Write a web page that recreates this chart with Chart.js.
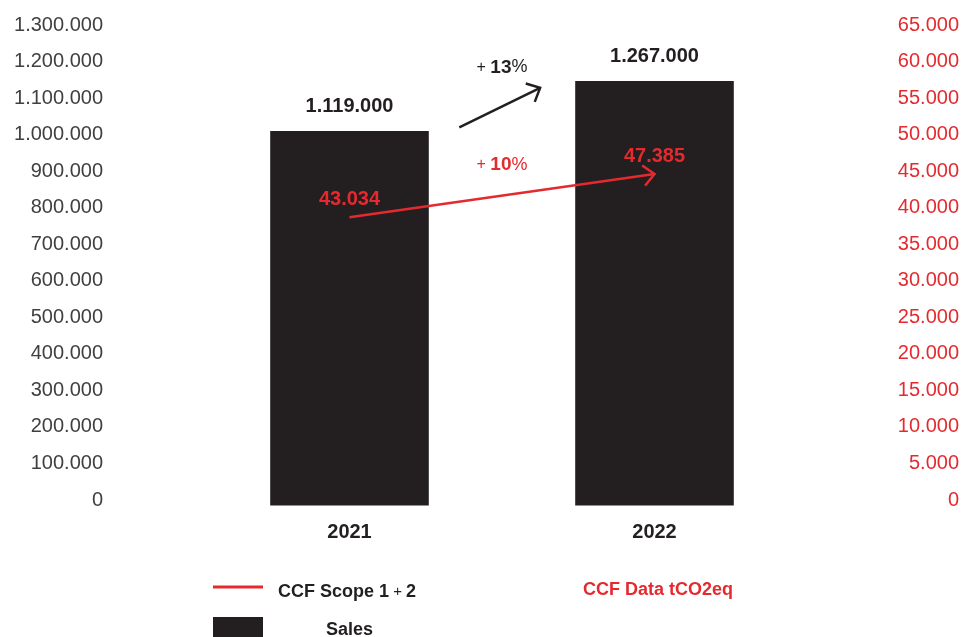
<!DOCTYPE html>
<html>
<head>
<meta charset="utf-8">
<script src="https://cdn.jsdelivr.net/npm/chart.js@4"></script>
<style>
  html, body { margin: 0; padding: 0; background: #fff; }
</style>
</head>
<body>
<canvas id="chart" width="968" height="637"></canvas>
<script>
// values (bar / line heights) and the printed labels
const years = ['2021', '2022'];
const salesValues = [1010000, 1147000];
const salesLabels = ['1.119.000', '1.267.000'];
const ccfValues = [38700, 44600];
const ccfLabels = ['43.034', '47.385'];
const salesGrowth = '13';
const ccfGrowth = '10';
const salesMax = 1300000, salesStep = 100000;
const ccfMax = 65000, ccfStep = 5000;

const RED = '#e42a2e';
const DARK = '#231f20';
const GREY = '#404040';
const FONT = '"Liberation Sans", Arial, sans-serif';

function fmt(v){
    return v.toLocaleString('de-DE');
}

function arrowHead(ctx, x1, y1, x2, y2, len){
    const a = Math.atan2(y2 - y1, x2 - x1);
    ctx.beginPath();
    ctx.moveTo(x2 - len * Math.cos(a - 0.75), y2 - len * Math.sin(a - 0.75));
    ctx.lineTo(x2, y2);
    ctx.lineTo(x2 - len * Math.cos(a + 0.75), y2 - len * Math.sin(a + 0.75));
    ctx.stroke();
}

// draw text made of pieces with different fonts, centred or left aligned
function drawParts(ctx, parts, x, y, align){
    let total = 0;
    parts.forEach(p => { ctx.font = p.font; total += ctx.measureText(p.text).width; });
    let cx = align === 'center' ? x - total / 2 : x;
    ctx.textAlign = 'left';
    ctx.textBaseline = 'middle';
    parts.forEach(p => {
        ctx.font = p.font;
        ctx.fillStyle = p.color;
        ctx.fillText(p.text, cx, y);
        cx += ctx.measureText(p.text).width;
    });
}

const extras = {
    id: 'extras',
    afterDatasetsDraw(chart){
        const ctx = chart.ctx;
        const x = chart.scales.x, y = chart.scales.y;
        const bars = chart.getDatasetMeta(1).data;
        const pts = chart.getDatasetMeta(0).data;
        ctx.save();

        // arrow head on the CCF line
        const p0 = pts[0], p1 = pts[pts.length - 1];
        ctx.strokeStyle = RED;
        ctx.lineWidth = 2.5;
        arrowHead(ctx, p0.x, p0.y, p1.x, p1.y, 15);

        // sales growth arrow between the bars
        const ax1 = x.getPixelForValue(0.36), ay1 = y.getPixelForValue(1020000);
        const ax2 = x.getPixelForValue(0.625), ay2 = y.getPixelForValue(1128000);
        ctx.strokeStyle = DARK;
        ctx.lineWidth = 2.5;
        ctx.beginPath();
        ctx.moveTo(ax1, ay1);
        ctx.lineTo(ax2, ay2);
        ctx.stroke();
        arrowHead(ctx, ax1, ay1, ax2, ay2, 15);

        // value labels
        ctx.textAlign = 'center';
        ctx.textBaseline = 'middle';
        ctx.font = 'bold 20px ' + FONT;
        ctx.fillStyle = DARK;
        bars.forEach((b, i) => ctx.fillText(salesLabels[i], b.x, b.y - 24));
        ctx.fillStyle = RED;
        pts.forEach((p, i) => ctx.fillText(ccfLabels[i], p.x, p.y - 18));

        // growth labels
        const mid = x.getPixelForValue(0.5);
        drawParts(ctx, [
            {text: '+ ', font: '16px ' + FONT, color: DARK},
            {text: salesGrowth, font: 'bold 19px ' + FONT, color: DARK},
            {text: '%', font: '18px ' + FONT, color: DARK}
        ], mid, y.getPixelForValue(1184000), 'center');
        drawParts(ctx, [
            {text: '+ ', font: '16px ' + FONT, color: RED},
            {text: ccfGrowth, font: 'bold 19px ' + FONT, color: RED},
            {text: '%', font: '18px ' + FONT, color: RED}
        ], mid, y.getPixelForValue(917000), 'center');

        // legend
        ctx.strokeStyle = RED;
        ctx.lineWidth = 3;
        ctx.beginPath();
        ctx.moveTo(213, 587);
        ctx.lineTo(263, 587);
        ctx.stroke();
        drawParts(ctx, [
            {text: 'CCF Scope 1', font: 'bold 18px ' + FONT, color: DARK},
            {text: ' + ', font: '15px ' + FONT, color: DARK},
            {text: '2', font: 'bold 18px ' + FONT, color: DARK}
        ], 278, 592, 'left');
        ctx.fillStyle = DARK;
        ctx.fillRect(213, 617, 50, 20);
        drawParts(ctx, [{text: 'Sales', font: 'bold 18px ' + FONT, color: DARK}], 326, 630, 'left');
        drawParts(ctx, [{text: 'CCF Data tCO2eq', font: 'bold 18px ' + FONT, color: RED}], 658, 590, 'center');

        ctx.restore();
    }
};

new Chart(document.getElementById('chart').getContext('2d'), {
    data: {
        labels: years,
        datasets: [{
            type: 'line',
            label: 'CCF Scope 1+2',
            data: ccfValues,
            yAxisID: 'y2',
            borderColor: RED,
            borderWidth: 2.5,
            pointRadius: 0,
            tension: 0,
            order: 0
        }, {
            type: 'bar',
            label: 'Sales',
            data: salesValues,
            yAxisID: 'y',
            backgroundColor: DARK,
            barPercentage: 0.52,
            categoryPercentage: 1,
            base: -15000,
            clip: false,
            order: 1
        }]
    },
    options: {
        responsive: false,
        animation: false,
        layout: { padding: { top: 25, right: 9, left: 0, bottom: 0 } },
        plugins: { legend: { display: false }, tooltip: { enabled: false } },
        scales: {
            x: {
                grid: { display: false, drawTicks: false },
                border: { display: false },
                ticks: { color: DARK, font: { family: FONT, size: 20, weight: 'bold' }, padding: 20 },
                afterFit(axis){ axis.height = 137; }
            },
            y: {
                position: 'left',
                min: 0, max: salesMax,
                grid: { display: false, drawTicks: false },
                border: { display: false },
                ticks: {
                    stepSize: salesStep,
                    color: GREY,
                    font: { family: FONT, size: 20 },
                    padding: 94,
                    callback: v => fmt(v)
                },
                afterFit(axis){
                    axis.width = 197;
                    axis.paddingTop = 12;
                    axis.paddingBottom = 12;
                }
            },
            y2: {
                position: 'right',
                min: 0, max: ccfMax,
                grid: { display: false, drawTicks: false },
                border: { display: false },
                ticks: {
                    stepSize: ccfStep,
                    color: RED,
                    crossAlign: 'far',
                    font: { family: FONT, size: 20 },
                    callback: v => fmt(v)
                },
                afterFit(axis){ axis.width = 152; }
            }
        }
    },
    plugins: [extras]
});
</script>
</body>
</html>
